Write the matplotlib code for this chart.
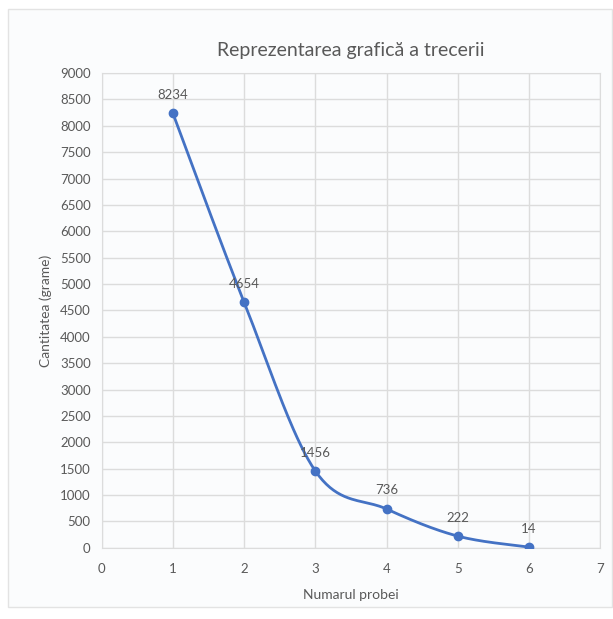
import matplotlib.pyplot as plt
import numpy as np
from matplotlib.patches import Rectangle

probe = [1, 2, 3, 4, 5, 6]
cantitate = [8234, 4654, 1456, 736, 222, 14]

plt.rcParams['font.family'] = ['Lato', 'DejaVu Sans']
text_color = '#595959'
line_color = '#4472C4'
grid_color = '#DCDCDC'


def excel_smooth(x, y, n=40):
    # Bezier smoothing similar to Excel's "smoothed line"
    x = np.asarray(x, float)
    y = np.asarray(y, float)
    px = np.concatenate([[x[0]], x, [x[-1]]])
    py = np.concatenate([[y[0]], y, [y[-1]]])
    xs, ys = [], []
    t = np.linspace(0, 1, n)
    for i in range(len(x) - 1):
        p0 = np.array([px[i + 1], py[i + 1]])
        p3 = np.array([px[i + 2], py[i + 2]])
        p1 = p0 + (np.array([px[i + 2], py[i + 2]]) - np.array([px[i], py[i]])) / 6
        p2 = p3 - (np.array([px[i + 3], py[i + 3]]) - np.array([px[i + 1], py[i + 1]])) / 6
        b = ((1 - t) ** 3)[:, None] * p0 + (3 * (1 - t) ** 2 * t)[:, None] * p1 \
            + (3 * (1 - t) * t ** 2)[:, None] * p2 + (t ** 3)[:, None] * p3
        xs.extend(b[:, 0])
        ys.extend(b[:, 1])
    return xs, ys


fig = plt.figure(figsize=(6.13, 6.19), dpi=100)
fig.patch.set_facecolor('white')
fig.patches.append(Rectangle((8 / 613, 12 / 619), 604 / 613, 598 / 619,
                             transform=fig.transFigure, facecolor='#FBFCFD',
                             edgecolor='#E3E3E3', linewidth=1, zorder=-1))
ax = fig.add_axes([0.166, 0.115, 0.813, 0.767])
ax.set_facecolor('none')

sx, sy = excel_smooth(probe, cantitate)
ax.plot(sx, sy, color=line_color, linewidth=2, zorder=3)
ax.plot(probe, cantitate, 'o', color=line_color, markersize=6, zorder=4)
for xv, yv in zip(probe, cantitate):
    ax.annotate(str(yv), (xv, yv), xytext=(0, 9), textcoords='offset points',
                ha='center', va='bottom', fontsize=9.5, color=text_color)

ax.set_xlim(0, 7)
ax.set_ylim(0, 9000)
ax.set_xticks(range(0, 8))
ax.set_yticks(range(0, 9001, 500))
ax.grid(True, color=grid_color, linewidth=1)
ax.set_axisbelow(True)
for s in ax.spines.values():
    s.set_color(grid_color)
ax.tick_params(length=0, colors=text_color, labelsize=9.5)
ax.tick_params(axis='x', pad=11)
ax.tick_params(axis='y', pad=8)

ax.set_title('Reprezentarea grafică a trecerii', fontsize=14, color=text_color, pad=12)
ax.set_xlabel('Numarul probei', fontsize=10, color=text_color, labelpad=10)
ax.set_ylabel('Cantitatea (grame)', fontsize=10, color=text_color, labelpad=6)

plt.savefig('out.png', dpi=100)
